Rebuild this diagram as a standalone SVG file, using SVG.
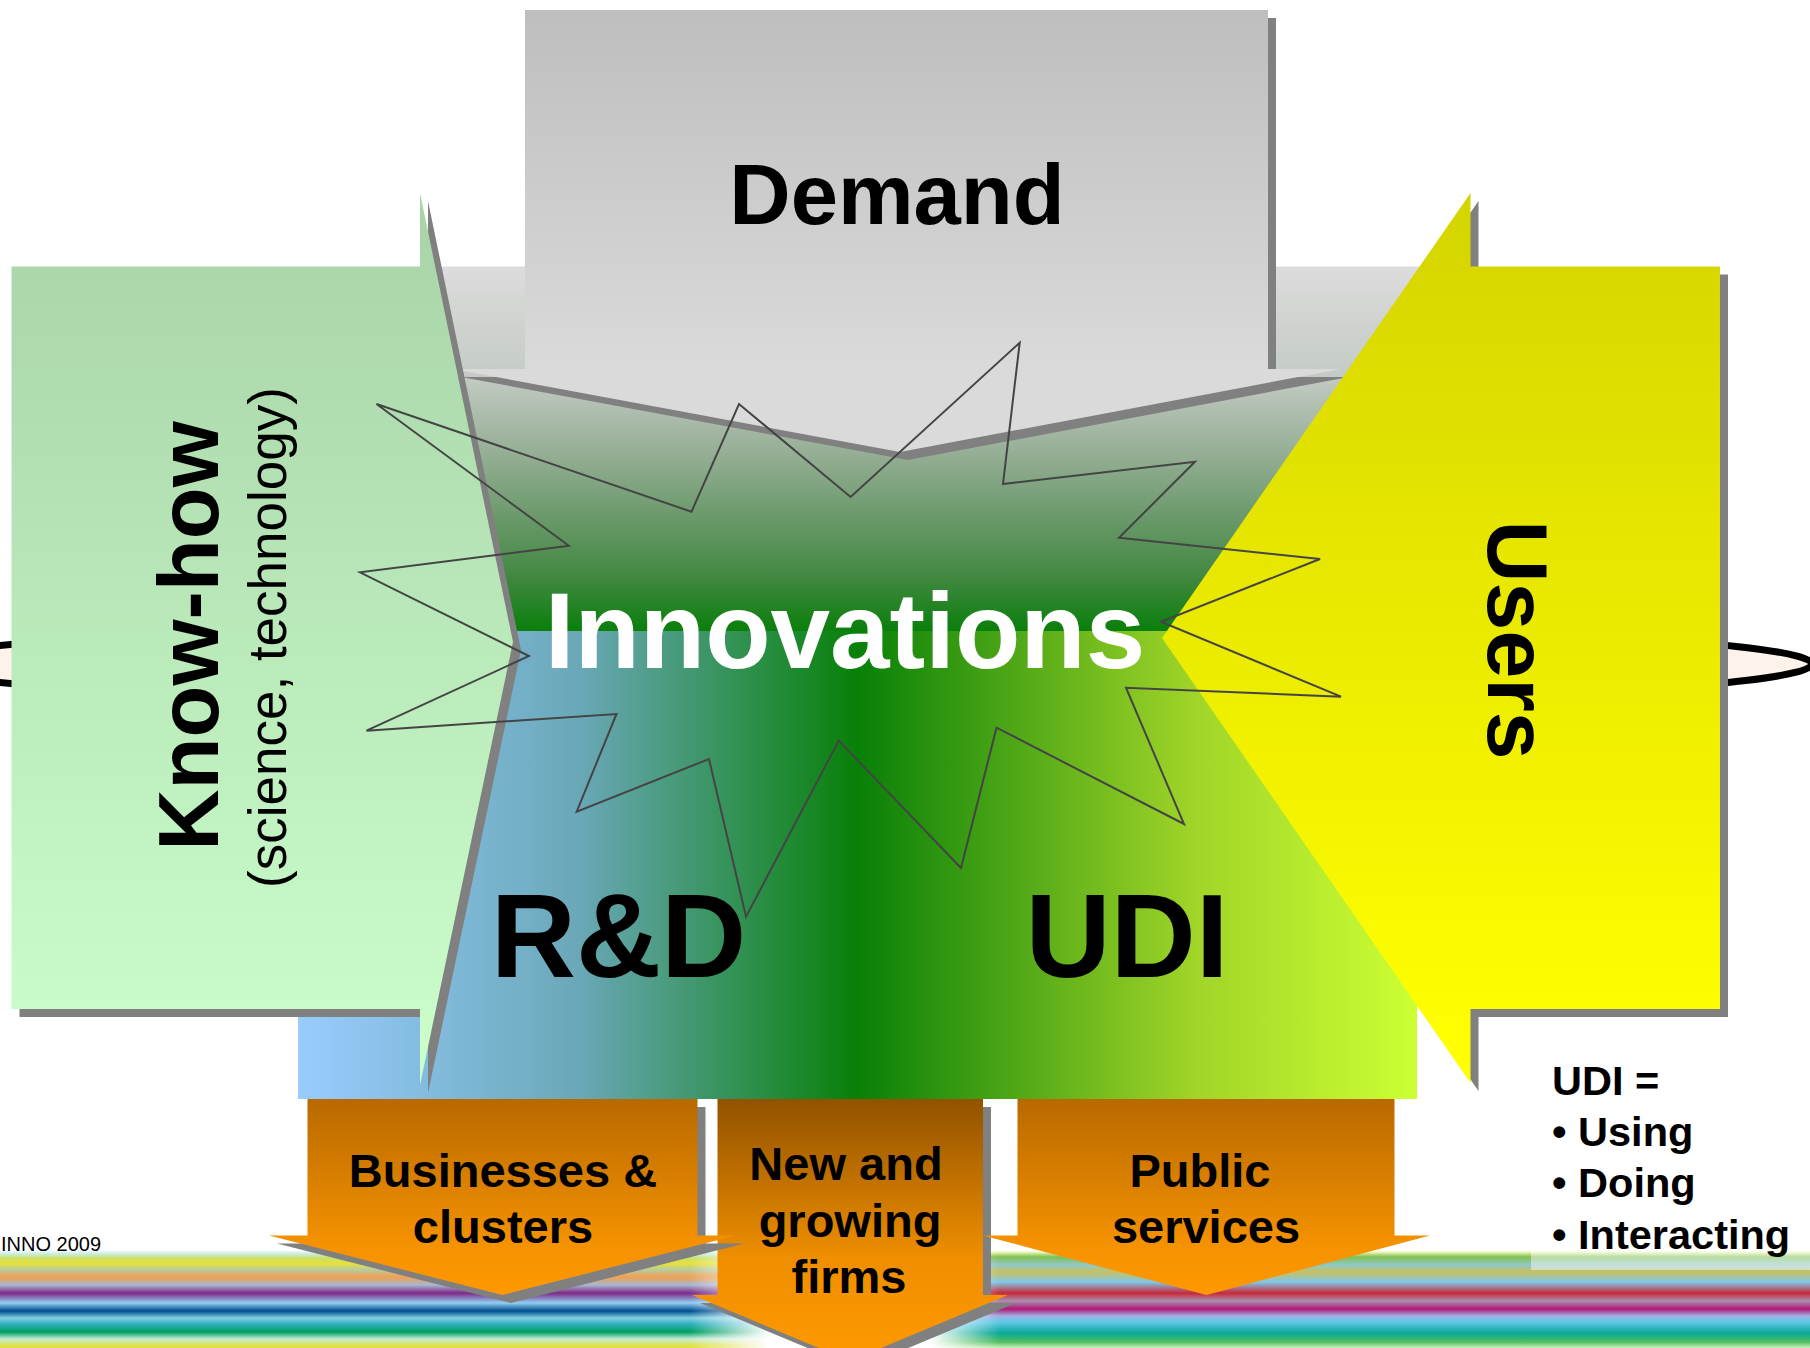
<svg xmlns="http://www.w3.org/2000/svg" width="1810" height="1348" viewBox="0 0 1810 1348">
<defs>
<style>
.t{font-family:"Liberation Sans",Arial,sans-serif;font-weight:bold;fill:#000}
.n{font-family:"Liberation Sans",Arial,sans-serif;font-weight:normal;fill:#000}
.sh{fill:#808080}
.star{fill:none;stroke:#444;stroke-width:2;stroke-linejoin:miter}
</style>
<linearGradient id="gDemand" gradientUnits="userSpaceOnUse" x1="0" y1="10" x2="0" y2="369"><stop offset="0" stop-color="#bebebe"/><stop offset="1" stop-color="#dadada"/></linearGradient>
<linearGradient id="gBand" gradientUnits="userSpaceOnUse" x1="0" y1="266" x2="0" y2="631"><stop offset="0" stop-color="#dcdcdc"/><stop offset="0.3" stop-color="#c4cbc4"/><stop offset="0.5" stop-color="#98b098"/><stop offset="0.7" stop-color="#689868"/><stop offset="0.85" stop-color="#428842"/><stop offset="1" stop-color="#0a7f0a"/></linearGradient>
<linearGradient id="gBottom" gradientUnits="userSpaceOnUse" x1="298" y1="0" x2="1417" y2="0"><stop offset="0" stop-color="#99ccff"/><stop offset="0.25" stop-color="#6aa8b8"/><stop offset="0.5" stop-color="#088008"/><stop offset="0.8" stop-color="#a0d428"/><stop offset="1" stop-color="#ccff33"/></linearGradient>
<linearGradient id="gKnow" gradientUnits="userSpaceOnUse" x1="0" y1="193" x2="0" y2="1085"><stop offset="0" stop-color="#a8d3a8"/><stop offset="1" stop-color="#ccffcc"/></linearGradient>
<linearGradient id="gUsers" gradientUnits="userSpaceOnUse" x1="0" y1="193" x2="0" y2="1040"><stop offset="0" stop-color="#d4d400"/><stop offset="1" stop-color="#ffff00"/></linearGradient>
<linearGradient id="gOr1" x1="0" y1="0" x2="0" y2="1"><stop offset="0" stop-color="#b86900"/><stop offset="0.75" stop-color="#f59200"/><stop offset="1" stop-color="#ff9900"/></linearGradient>
<linearGradient id="gOr2" x1="0" y1="0" x2="0" y2="1"><stop offset="0" stop-color="#925200"/><stop offset="0.6" stop-color="#ee8e00"/><stop offset="1" stop-color="#ff9900"/></linearGradient>
<linearGradient id="gStripeL" gradientUnits="userSpaceOnUse" x1="0" y1="1250" x2="0" y2="1348">
<stop offset="0" stop-color="#ffffff"/><stop offset="0.03" stop-color="#d0f0f0"/><stop offset="0.08" stop-color="#c8e070"/><stop offset="0.14" stop-color="#e8e038"/><stop offset="0.2" stop-color="#b8cca0"/><stop offset="0.276" stop-color="#f0a050"/><stop offset="0.357" stop-color="#a8b8d0"/><stop offset="0.44" stop-color="#802888"/><stop offset="0.54" stop-color="#90d0f0"/><stop offset="0.622" stop-color="#004c90"/><stop offset="0.694" stop-color="#80d0e0"/><stop offset="0.755" stop-color="#30b0c0"/><stop offset="0.837" stop-color="#00a060"/><stop offset="0.908" stop-color="#c8ecd8"/><stop offset="0.98" stop-color="#e0e040"/><stop offset="1" stop-color="#e0e040"/></linearGradient>
<linearGradient id="gStripeR" gradientUnits="userSpaceOnUse" x1="0" y1="1250" x2="0" y2="1348">
<stop offset="0" stop-color="#ffffff"/><stop offset="0.02" stop-color="#f0f8c0"/><stop offset="0.07" stop-color="#80c050"/><stop offset="0.153" stop-color="#90c8c8"/><stop offset="0.224" stop-color="#c8c060"/><stop offset="0.327" stop-color="#80c8e8"/><stop offset="0.44" stop-color="#c82838"/><stop offset="0.52" stop-color="#a890b0"/><stop offset="0.602" stop-color="#b01878"/><stop offset="0.673" stop-color="#a0b0e0"/><stop offset="0.735" stop-color="#60c8e8"/><stop offset="0.847" stop-color="#08a898"/><stop offset="0.939" stop-color="#50c060"/><stop offset="1" stop-color="#d0f0c0"/></linearGradient>
<linearGradient id="gFadeL" gradientUnits="userSpaceOnUse" x1="690" y1="0" x2="770" y2="0"><stop offset="0" stop-color="#fff"/><stop offset="1" stop-color="#000"/></linearGradient>
<linearGradient id="gFadeR" gradientUnits="userSpaceOnUse" x1="930" y1="0" x2="1000" y2="0"><stop offset="0" stop-color="#000"/><stop offset="1" stop-color="#fff"/></linearGradient>
<mask id="mL" maskUnits="userSpaceOnUse" x="0" y="1240" width="1810" height="108"><rect x="0" y="1240" width="800" height="108" fill="url(#gFadeL)"/></mask>
<mask id="mR" maskUnits="userSpaceOnUse" x="0" y="1240" width="1810" height="108"><rect x="900" y="1240" width="910" height="108" fill="url(#gFadeR)"/></mask>
</defs>
<rect width="1810" height="1348" fill="#ffffff"/>

<g id="ellipse"><ellipse cx="864" cy="664" rx="948" ry="45" fill="#fdf3ea" stroke="#000" stroke-width="7"/></g>

<g id="stripes">
<rect x="0" y="1250" width="800" height="98" fill="url(#gStripeL)" mask="url(#mL)"/>
<rect x="900" y="1250" width="910" height="98" fill="url(#gStripeR)" mask="url(#mR)"/>
<rect x="1531" y="1040" width="279" height="230" fill="#ffffff" fill-opacity="0.45"/>
</g>

<g id="center">
<rect x="425" y="266.5" width="995" height="365" fill="url(#gBand)"/>
<rect x="298" y="631" width="1119" height="468" fill="url(#gBottom)"/>
</g>

<g id="demand">
<polygon class="sh" points="533,18 1276,18 1276,377 1349,377 908,460 461,377 533,377"/>
<polygon fill="url(#gDemand)" points="525,10 1268,10 1268,369 1341,369 900,452 453,369 525,369"/>
<text class="t" x="897" y="224" font-size="85" text-anchor="middle">Demand</text>
</g>

<g id="knowhow">
<polygon class="sh" points="19.5,274.5 428,274.5 428,201 521,650 428,1093 428,1017 19.5,1017"/>
<polygon fill="url(#gKnow)" points="11.5,266.5 420,266.5 420,193 513,642 420,1085 420,1009 11.5,1009"/>
<text class="t" font-size="85" text-anchor="middle" transform="translate(218,636) rotate(-90)">Know-how</text>
<text class="n" font-size="53" text-anchor="middle" transform="translate(286,637.5) rotate(-90)">(science, technology)</text>
</g>

<g id="users">
<polygon class="sh" points="1728,274.5 1478.5,274.5 1478.5,201 1170,646 1478.5,1091 1478.5,1017 1728,1017"/>
<polygon fill="url(#gUsers)" points="1720,266.5 1470.5,266.5 1470.5,193 1162,638 1470.5,1083 1470.5,1009 1720,1009"/>
<text class="t" font-size="86" text-anchor="middle" transform="translate(1488,640) rotate(90)">Users</text>
</g>

<g id="connectors">
<polygon class="star" points="376.5,404 691.5,511.7 739,404 850.6,497 1019.7,342.7 1003,484 1195,461.7 1119,537.7 1320,559 1161,621.7 1341,696.7 1126,687.7 1184,824 996.5,727.7 961,868 838.7,740.7 746,916.7 709,759 576.7,811.7 616.5,714 366.5,730.7 529,656 360,572.3 568.8,545.7"/>
</g>

<g id="innovations">
<text class="t" x="845" y="668" font-size="107" text-anchor="middle" style="fill:#ffffff">Innovations</text>
</g>
<g id="rd"><text class="t" x="618.5" y="977" font-size="118" text-anchor="middle">R&amp;D</text></g>
<g id="udi"><text class="t" x="1127" y="977" font-size="118" text-anchor="middle">UDI</text></g>

<g id="arrow-new-firms">
<polygon class="sh" points="725.5,1107 991,1107 991,1303 1016,1303 858,1369 700,1303 725.5,1303"/>
<polygon fill="url(#gOr2)" points="717.5,1099 983,1099 983,1295 1008,1295 850,1361 692,1295 717.5,1295"/>
<text class="t" font-size="47" text-anchor="middle"><tspan x="846" y="1180">New and</tspan><tspan x="850" y="1237">growing</tspan><tspan x="849" y="1293">firms</tspan></text>
</g>

<g id="arrow-public">
<polygon fill="url(#gOr1)" points="1017.5,1099 1394.5,1099 1394.5,1235.5 1430,1235.5 1206.5,1295 983,1235.5 1017.5,1235.5"/>
<text class="t" font-size="47" text-anchor="middle"><tspan x="1200" y="1187">Public</tspan><tspan x="1206" y="1243">services</tspan></text>
</g>

<g id="arrow-businesses">
<polygon class="sh" points="315.5,1107 705.5,1107 705.5,1243.5 744,1243.5 511,1303 277,1243.5 315.5,1243.5"/>
<polygon fill="url(#gOr1)" points="307.5,1099 697.5,1099 697.5,1235.5 736,1235.5 502.5,1295 269,1235.5 307.5,1235.5"/>
<text class="t" font-size="47" text-anchor="middle"><tspan x="503" y="1187">Businesses &amp;</tspan><tspan x="503" y="1243">clusters</tspan></text>
</g>

<g id="legend">
<text class="t" font-size="41.5"><tspan x="1552" y="1095">UDI =</tspan><tspan x="1552" y="1145.5">• Using</tspan><tspan x="1552" y="1197">• Doing</tspan><tspan x="1552" y="1248.5">• Interacting</tspan></text>
</g>

<g id="footer"><text class="n" x="1" y="1250.5" font-size="20">INNO 2009</text></g>
</svg>
